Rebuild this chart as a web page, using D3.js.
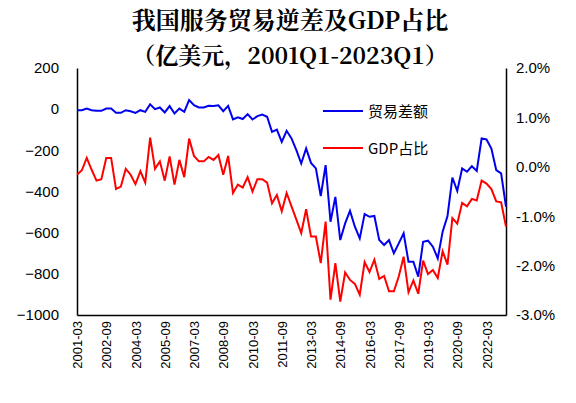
<!DOCTYPE html><html><head><meta charset="utf-8"><script src="https://cdn.jsdelivr.net/npm/d3@7"></script>
<style>body{margin:0;background:#fff}</style></head><body><svg id="c" width="576" height="403"></svg><script>
const start=2001;
const balance=[-5,-5,3,-5,-8,-8,3,3,-18,-18,-5,-10,-18,-5,-13,24,0,8,-16,15,-21,3,-13,44,19,8,8,16,15,19,-10,16,-50,-40,-48,-24,-50,-34,-26,-37,-110,-99,
-159,-105,-142,-199,-264,-191,-261,-288,-422,-272,-547,-426,-636,-555,-494,-571,-628,-510,-523,-519,-636,-660,-636,-700,-652,-603,-741,-741,-814,-644,-639,-668,-725,-595,-519,-332,-397,-288,-304,-277,-300,-142,-147,-191,-296,-312,-474];
const gdpShare=[-0.16,-0.07,0.18,-0.06,-0.28,-0.25,0.18,0.18,-0.45,-0.40,-0.04,-0.16,-0.35,-0.09,-0.32,0.59,-0.04,0.11,-0.28,0.21,-0.36,0.14,-0.21,0.57,0.22,0.11,0.11,0.20,0.14,0.24,-0.16,0.22,-0.53,-0.36,-0.42,-0.21,-0.50,-0.25,-0.25,-0.32,-0.74,-0.57,
-0.90,-0.53,-0.80,-1.07,-1.34,-0.86,-1.41,-1.41,-1.95,-1.11,-2.69,-1.95,-2.73,-2.14,-2.29,-2.37,-2.59,-1.93,-2.13,-1.88,-2.27,-2.21,-2.52,-2.52,-2.22,-1.82,-2.54,-2.30,-2.57,-1.90,-2.17,-2.09,-2.25,-1.71,-1.98,-1.04,-1.15,-0.73,-0.80,-0.65,-0.68,-0.28,-0.34,-0.45,-0.70,-0.72,-1.21];
const leftTicks=[200,0,-200,-400,-600,-800,-1000];
const rightTicks=[2,1,0,-1,-2,-3];
const labels=balance.map((d,i)=>`${start+Math.floor(i/4)}-${String((i%4)*3+3).padStart(2,'0')}`);
const svg=d3.select('#c');
const x=d3.scaleLinear().domain([0,balance.length-1]).range([77,506]);
const yL=d3.scaleLinear().domain([-1000,200]).range([315,68]);
const yR=d3.scaleLinear().domain([-3,2]).range([315,68]);
const f="'Noto Sans CJK SC',sans-serif";
const tf="'Noto Serif CJK SC','Noto Sans CJK SC',serif";
svg.append('text').attr('x',290).attr('y',29).attr('text-anchor','middle').attr('font-family',tf).attr('font-weight','bold').attr('font-size',24).text('我国服务贸易逆差及GDP占比');
svg.append('text').attr('x',290).attr('y',64).attr('text-anchor','middle').attr('font-family',tf).attr('font-weight','bold').attr('font-size',23).text('（亿美元，2001Q1-2023Q1）');
const gl=svg.append('g').attr('transform','translate(77,0)').call(d3.axisLeft(yL).tickValues(leftTicks).tickSize(0).tickPadding(18).tickFormat(d3.format('d')));
const gr=svg.append('g').attr('transform','translate(506,0)').call(d3.axisRight(yR).tickValues(rightTicks).tickSize(0).tickPadding(10).tickFormat(d=>d.toFixed(1)+'%'));
[gl,gr].forEach(g=>{g.selectAll('text').attr('font-family','Arial,Liberation Sans').attr('font-size',15).attr('fill','#000');g.select('.domain').attr('stroke','#000').attr('stroke-width',1.5);});
const xt=d3.range(0,balance.length,6);
const gx=svg.append('g').attr('transform','translate(0,315)').call(d3.axisBottom(x).tickValues(xt).tickSize(0).tickFormat(i=>labels[i]));
gx.select('.domain').attr('stroke','#000').attr('stroke-width',1.5);
gx.selectAll('text').attr('font-family','Arial,Liberation Sans').attr('font-size',13).attr('fill','#000').attr('text-anchor','end').attr('transform','rotate(-90)').attr('dx','-6').attr('dy','0.35em').attr('x',0).attr('y',0);
svg.append('path').datum(gdpShare).attr('fill','none').attr('stroke','#ff0000').attr('stroke-width',2).attr('d',d3.line().x((d,i)=>x(i)).y(d=>yR(d)));
svg.append('path').datum(balance).attr('fill','none').attr('stroke','#0000ee').attr('stroke-width',2).attr('d',d3.line().x((d,i)=>x(i)).y(d=>yL(d)));
const leg=[['贸易差额','#0000ee',111],['GDP占比','#ff0000',148]];
leg.forEach(([t,c,y])=>{svg.append('line').attr('x1',323).attr('x2',363).attr('y1',y).attr('y2',y).attr('stroke',c).attr('stroke-width',2);
svg.append('text').attr('x',368).attr('y',y+6).attr('font-family',f).attr('font-size',15).text(t);});
</script></body></html>
